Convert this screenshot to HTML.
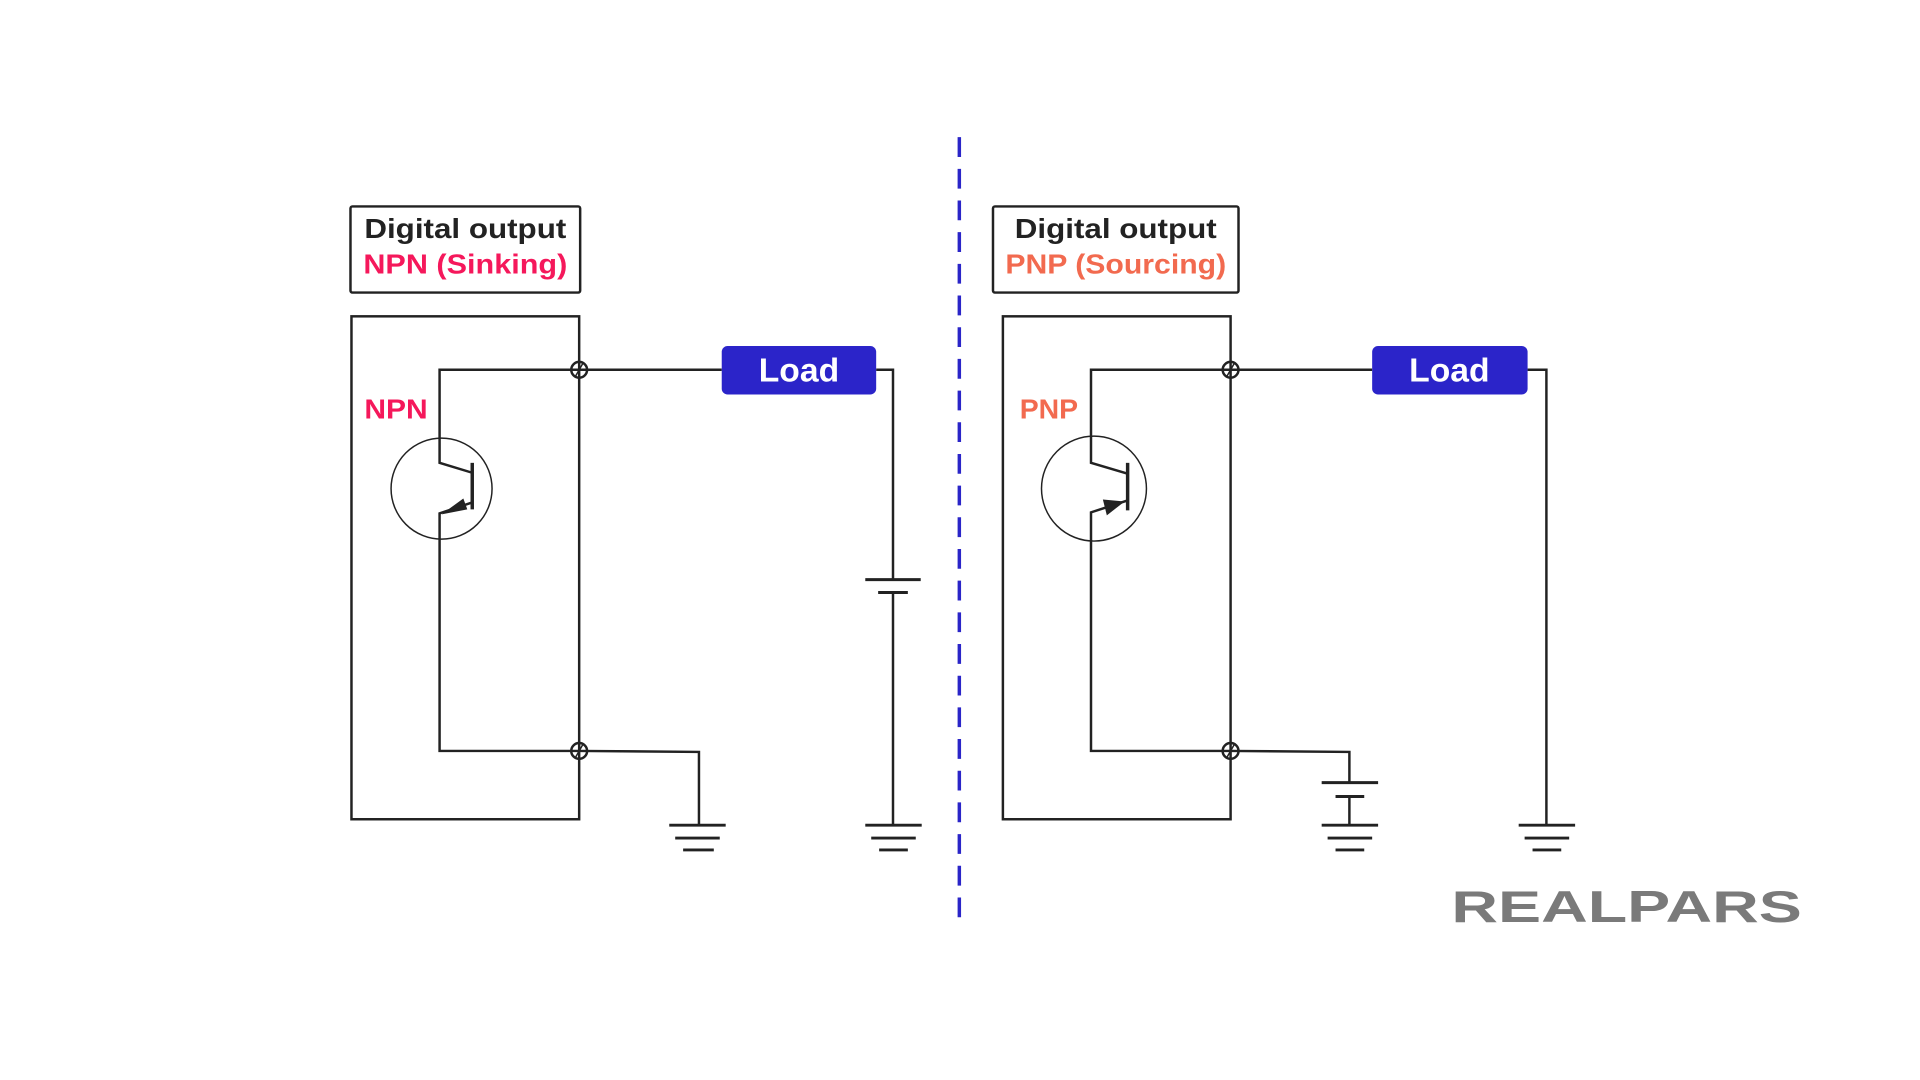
<!DOCTYPE html>
<html><head><meta charset="utf-8"><style>
html,body{margin:0;padding:0;background:#fff;}
svg{display:block;}
text{font-family:"Liberation Sans",sans-serif;font-weight:bold;}
</style></head><body>
<svg width="1920" height="1080" viewBox="0 0 1920 1080" xmlns="http://www.w3.org/2000/svg">
<g transform="translate(2,2.5) scale(0.99)">
<g fill="none" stroke="#222" stroke-width="2.5">
 <rect x="352" y="206" width="232" height="87" rx="2"/>
 <rect x="353" y="317" width="230" height="508"/>
 <polyline points="727,371 583,371 442,371 442,465 475,475"/>
 <line x1="475" y1="465" x2="475" y2="512" stroke-width="3.5"/>
 <polyline points="475,505 442,516 442,756 583,756 704,757 704,831"/>
 <ellipse cx="444" cy="491" rx="51" ry="51" stroke-width="1.5"/>
 <circle cx="583" cy="371" r="8"/><line x1="579" y1="378" x2="587" y2="364" stroke-width="1.5"/>
 <circle cx="583" cy="756" r="8"/><line x1="579" y1="763" x2="587" y2="749" stroke-width="1.5"/>
 <polyline points="883,371 900,371 900,583"/>
 <line x1="872" y1="583" x2="928" y2="583" stroke-width="3"/>
 <line x1="885" y1="596" x2="915" y2="596" stroke-width="3"/>
 <line x1="900" y1="596" x2="900" y2="831"/>
 <g stroke-width="3">
  <line x1="674" y1="831" x2="731" y2="831"/><line x1="680" y1="844" x2="725" y2="844"/><line x1="688" y1="856" x2="719" y2="856"/>
  <line x1="872" y1="831" x2="929" y2="831"/><line x1="878" y1="844" x2="923" y2="844"/><line x1="886" y1="856" x2="915" y2="856"/>
  <line x1="1333" y1="831" x2="1390" y2="831"/><line x1="1339" y1="844" x2="1384" y2="844"/><line x1="1347" y1="856" x2="1376" y2="856"/>
  <line x1="1532" y1="831" x2="1589" y2="831"/><line x1="1538" y1="844" x2="1583" y2="844"/><line x1="1546" y1="856" x2="1575" y2="856"/>
 </g>
 <rect x="1001" y="206" width="248" height="87" rx="2"/>
 <rect x="1011" y="317" width="230" height="508"/>
 <polyline points="1384,371 1241,371 1100,371 1100,465 1137,476"/>
 <line x1="1137" y1="465" x2="1137" y2="513" stroke-width="3.5"/>
 <polyline points="1137,503 1100,515 1100,756 1241,756 1361,757 1361,788"/>
 <ellipse cx="1103" cy="491" rx="53" ry="53" stroke-width="1.5"/>
 <circle cx="1241" cy="371" r="8"/><line x1="1237" y1="378" x2="1245" y2="364" stroke-width="1.5"/>
 <circle cx="1241" cy="756" r="8"/><line x1="1237" y1="763" x2="1245" y2="749" stroke-width="1.5"/>
 <line x1="1333" y1="788" x2="1390" y2="788" stroke-width="3"/>
 <line x1="1347" y1="802" x2="1376" y2="802" stroke-width="3"/>
 <line x1="1361" y1="802" x2="1361" y2="831"/>
 <polyline points="1541,371 1560,371 1560,831"/>
</g>
<polygon points="444,517 466,501 470,512" fill="#222"/>
<polygon points="1134,504 1112,502 1116,518" fill="#222"/>
<line x1="967" y1="136" x2="967" y2="928" stroke="#2a25c8" stroke-width="3.5" stroke-dasharray="20 12"/>
<rect x="727" y="347" width="156" height="49" rx="6" fill="#2b24c9"/>
<text x="805" y="383" font-size="34" fill="#fff" text-anchor="middle">Load</text>
<rect x="1384" y="347" width="157" height="49" rx="6" fill="#2b24c9"/>
<text x="1462" y="383" font-size="34" fill="#fff" text-anchor="middle">Load</text>
<text x="468" y="238" font-size="28" fill="#222" text-anchor="middle" textLength="204" lengthAdjust="spacingAndGlyphs">Digital output</text>
<text x="468" y="274" font-size="28" fill="#f5185b" text-anchor="middle" textLength="206" lengthAdjust="spacingAndGlyphs">NPN (Sinking)</text>
<text x="1125" y="238" font-size="28" fill="#222" text-anchor="middle" textLength="204" lengthAdjust="spacingAndGlyphs">Digital output</text>
<text x="1125" y="274" font-size="28" fill="#f26a4f" text-anchor="middle" textLength="223" lengthAdjust="spacingAndGlyphs">PNP (Sourcing)</text>
<text x="366" y="420" font-size="28" fill="#f5185b" textLength="64" lengthAdjust="spacingAndGlyphs">NPN</text>
<text x="1028" y="420" font-size="28" fill="#f26a4f" textLength="59" lengthAdjust="spacingAndGlyphs">PNP</text>
<text x="1464" y="929" font-size="45" fill="#7a7a7a" textLength="354" lengthAdjust="spacingAndGlyphs">REALPARS</text>
</g>
</svg>
</body></html>
